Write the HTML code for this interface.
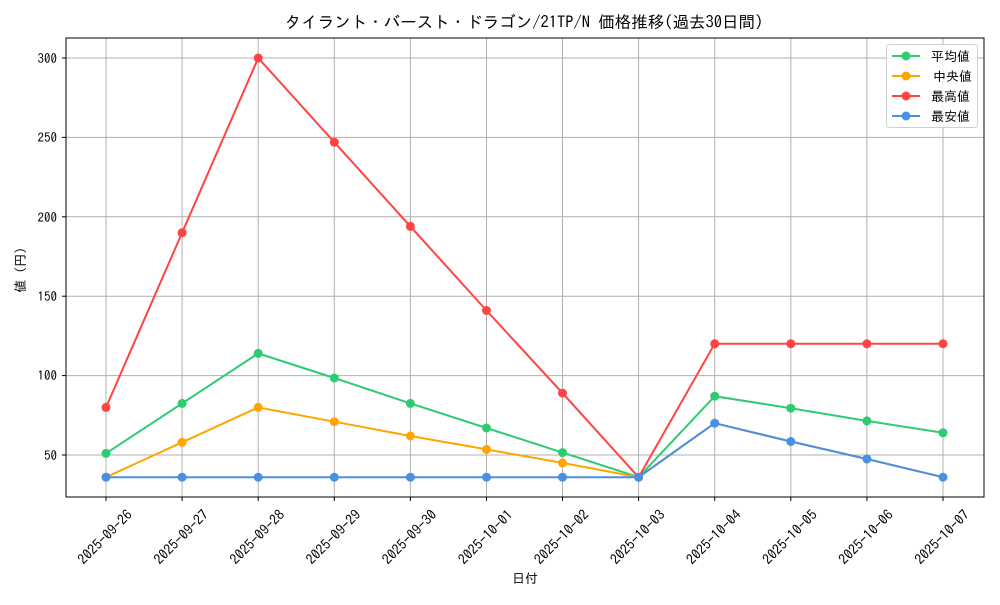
<!DOCTYPE html><html><head><meta charset="utf-8"><style>body{margin:0;background:#fff}svg{font-family:"IPAGothic","Liberation Sans","Noto Sans CJK JP",sans-serif}</style></head><body>
<svg width="1000" height="600" xmlns="http://www.w3.org/2000/svg">
<g stroke="#b0b0b0" stroke-width="1">
<line x1="106" y1="38" x2="106" y2="497"/><line x1="182.1" y1="38" x2="182.1" y2="497"/><line x1="258.2" y1="38" x2="258.2" y2="497"/><line x1="334.3" y1="38" x2="334.3" y2="497"/><line x1="410.4" y1="38" x2="410.4" y2="497"/><line x1="486.5" y1="38" x2="486.5" y2="497"/><line x1="562.5" y1="38" x2="562.5" y2="497"/><line x1="638.6" y1="38" x2="638.6" y2="497"/><line x1="714.7" y1="38" x2="714.7" y2="497"/><line x1="790.8" y1="38" x2="790.8" y2="497"/><line x1="866.9" y1="38" x2="866.9" y2="497"/><line x1="943" y1="38" x2="943" y2="497"/>
<line x1="66" y1="455" x2="984" y2="455"/><line x1="66" y1="375.6" x2="984" y2="375.6"/><line x1="66" y1="296.2" x2="984" y2="296.2"/><line x1="66" y1="216.8" x2="984" y2="216.8"/><line x1="66" y1="137.4" x2="984" y2="137.4"/><line x1="66" y1="58" x2="984" y2="58"/>
</g>
<rect x="66" y="38" width="918" height="459" fill="none" stroke="#000" stroke-width="1"/>
<g stroke="#000"><line x1="62" y1="455" x2="66" y2="455"/><line x1="62" y1="375.6" x2="66" y2="375.6"/><line x1="62" y1="296.2" x2="66" y2="296.2"/><line x1="62" y1="216.8" x2="66" y2="216.8"/><line x1="62" y1="137.4" x2="66" y2="137.4"/><line x1="62" y1="58" x2="66" y2="58"/>
<line x1="106" y1="497" x2="106" y2="501"/><line x1="182.1" y1="497" x2="182.1" y2="501"/><line x1="258.2" y1="497" x2="258.2" y2="501"/><line x1="334.3" y1="497" x2="334.3" y2="501"/><line x1="410.4" y1="497" x2="410.4" y2="501"/><line x1="486.5" y1="497" x2="486.5" y2="501"/><line x1="562.5" y1="497" x2="562.5" y2="501"/><line x1="638.6" y1="497" x2="638.6" y2="501"/><line x1="714.7" y1="497" x2="714.7" y2="501"/><line x1="790.8" y1="497" x2="790.8" y2="501"/><line x1="866.9" y1="497" x2="866.9" y2="501"/><line x1="943" y1="497" x2="943" y2="501"/></g>
<g font-size="13" text-anchor="end"><text x="57" y="460">50</text><text x="57" y="380">100</text><text x="57" y="301">150</text><text x="57" y="222">200</text><text x="57" y="142">250</text><text x="57" y="63">300</text></g>
<g font-size="14" text-anchor="middle">
<text transform="translate(105,537) rotate(-45)" dy="0.35em">2025-09-26</text><text transform="translate(181.1,537) rotate(-45)" dy="0.35em">2025-09-27</text><text transform="translate(257.2,537) rotate(-45)" dy="0.35em">2025-09-28</text><text transform="translate(333.3,537) rotate(-45)" dy="0.35em">2025-09-29</text><text transform="translate(409.4,537) rotate(-45)" dy="0.35em">2025-09-30</text><text transform="translate(485.5,537) rotate(-45)" dy="0.35em">2025-10-01</text><text transform="translate(561.5,537) rotate(-45)" dy="0.35em">2025-10-02</text><text transform="translate(637.6,537) rotate(-45)" dy="0.35em">2025-10-03</text><text transform="translate(713.7,537) rotate(-45)" dy="0.35em">2025-10-04</text><text transform="translate(789.8,537) rotate(-45)" dy="0.35em">2025-10-05</text><text transform="translate(865.9,537) rotate(-45)" dy="0.35em">2025-10-06</text><text transform="translate(942,537) rotate(-45)" dy="0.35em">2025-10-07</text>
</g>
<text x="525" y="583" font-size="13" text-anchor="middle">日付</text>
<text transform="translate(25,270) rotate(-90)" font-size="13" text-anchor="middle">値 (円)</text>
<text x="524" y="28" font-size="16.5" text-anchor="middle">タイラント・バースト・ドラゴン/21TP/N 価格推移(過去30日間)</text>
<g fill="none" stroke-width="2">
<polyline stroke="#2ecc71" points="106,453.4 182.1,403.4 258.2,353.4 334.3,378 410.4,403.4 486.5,428 562.5,452.6 638.6,477.2 714.7,396.2 790.8,408.2 866.9,420.9 943,432.8"/>
<polyline stroke="#ffa500" points="106,477.2 182.1,442.3 258.2,407.4 334.3,421.7 410.4,436 486.5,449.4 562.5,462.9 638.6,477.2 714.7,423.2 790.8,441.5 866.9,459 943,477.2"/>
<polyline stroke="#ff4444" points="106,407.4 182.1,232.7 258.2,58 334.3,142.2 410.4,226.4 486.5,310.5 562.5,393.1 638.6,477.2 714.7,343.8 790.8,343.8 866.9,343.8 943,343.8"/>
<polyline stroke="#4a90e2" points="106,477.2 182.1,477.2 258.2,477.2 334.3,477.2 410.4,477.2 486.5,477.2 562.5,477.2 638.6,477.2 714.7,423.2 790.8,441.5 866.9,459 943,477.2"/>
</g>
<g fill="#2ecc71"><circle cx="106" cy="453.4" r="4.5"/><circle cx="182.1" cy="403.4" r="4.5"/><circle cx="258.2" cy="353.4" r="4.5"/><circle cx="334.3" cy="378" r="4.5"/><circle cx="410.4" cy="403.4" r="4.5"/><circle cx="486.5" cy="428" r="4.5"/><circle cx="562.5" cy="452.6" r="4.5"/><circle cx="638.6" cy="477.2" r="4.5"/><circle cx="714.7" cy="396.2" r="4.5"/><circle cx="790.8" cy="408.2" r="4.5"/><circle cx="866.9" cy="420.9" r="4.5"/><circle cx="943" cy="432.8" r="4.5"/></g>
<g fill="#ffa500"><circle cx="106" cy="477.2" r="4.5"/><circle cx="182.1" cy="442.3" r="4.5"/><circle cx="258.2" cy="407.4" r="4.5"/><circle cx="334.3" cy="421.7" r="4.5"/><circle cx="410.4" cy="436" r="4.5"/><circle cx="486.5" cy="449.4" r="4.5"/><circle cx="562.5" cy="462.9" r="4.5"/></g>
<g fill="#ff4444"><circle cx="106" cy="407.4" r="4.5"/><circle cx="182.1" cy="232.7" r="4.5"/><circle cx="258.2" cy="58" r="4.5"/><circle cx="334.3" cy="142.2" r="4.5"/><circle cx="410.4" cy="226.4" r="4.5"/><circle cx="486.5" cy="310.5" r="4.5"/><circle cx="562.5" cy="393.1" r="4.5"/><circle cx="638.6" cy="477.2" r="4.5"/><circle cx="714.7" cy="343.8" r="4.5"/><circle cx="790.8" cy="343.8" r="4.5"/><circle cx="866.9" cy="343.8" r="4.5"/><circle cx="943" cy="343.8" r="4.5"/></g>
<g fill="#4a90e2"><circle cx="106" cy="477.2" r="4.5"/><circle cx="182.1" cy="477.2" r="4.5"/><circle cx="258.2" cy="477.2" r="4.5"/><circle cx="334.3" cy="477.2" r="4.5"/><circle cx="410.4" cy="477.2" r="4.5"/><circle cx="486.5" cy="477.2" r="4.5"/><circle cx="562.5" cy="477.2" r="4.5"/><circle cx="638.6" cy="477.2" r="4.5"/><circle cx="714.7" cy="423.2" r="4.5"/><circle cx="790.8" cy="441.5" r="4.5"/><circle cx="866.9" cy="459" r="4.5"/><circle cx="943" cy="477.2" r="4.5"/></g>
<rect x="886.5" y="44.5" width="91" height="83" rx="3" fill="#fff" fill-opacity="0.8" stroke="#d0d0d0"/>
<g stroke-width="2"><line x1="892" y1="56" x2="920" y2="56" stroke="#2ecc71"/><line x1="892" y1="76" x2="920" y2="76" stroke="#ffa500"/><line x1="892" y1="96" x2="920" y2="96" stroke="#ff4444"/><line x1="892" y1="116" x2="920" y2="116" stroke="#4a90e2"/></g>
<circle cx="906" cy="56" r="4.5" fill="#2ecc71"/><circle cx="906" cy="76" r="4.5" fill="#ffa500"/><circle cx="906" cy="96" r="4.5" fill="#ff4444"/><circle cx="906" cy="116" r="4.5" fill="#4a90e2"/>
<g font-size="13"><text x="931" y="61">平均値</text><text x="933" y="81">中央値</text><text x="931" y="101">最高値</text><text x="931" y="121">最安値</text></g>
</svg></body></html>
